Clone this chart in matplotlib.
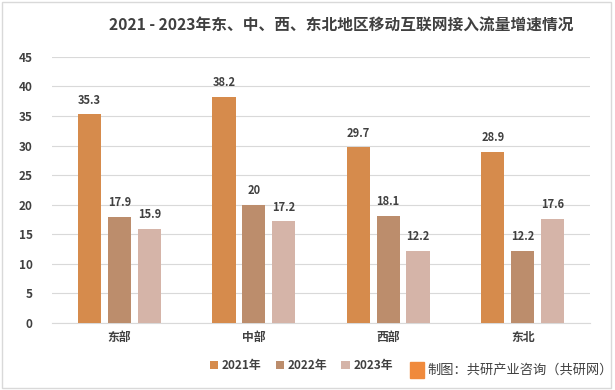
import matplotlib
matplotlib.use("Agg")
import matplotlib.pyplot as plt
import numpy as np
from matplotlib.patches import Rectangle

plt.rcParams['font.family'] = ['Noto Sans CJK SC', 'DejaVu Sans']

categories = ["东部", "中部", "西部", "东北"]
series_names = ["2021年", "2022年", "2023年"]
v2021 = [35.3, 38.2, 29.7, 28.9]
v2022 = [17.9, 20, 18.1, 12.2]
v2023 = [15.9, 17.2, 12.2, 17.6]
colors = ["#D68B4C", "#BC8D6C", "#D5B4A8"]
title = "2021 - 2023年东、中、西、东北地区移动互联网接入流量增速情况"

fig = plt.figure(figsize=(6.15, 3.9), dpi=100)
ax = fig.add_axes([0.085, 0.172, 0.874, 0.682])

x = np.arange(len(categories))
pitch = 0.222
width = 0.172
for i, (vals, name, c) in enumerate(zip([v2021, v2022, v2023], series_names, colors)):
    bars = ax.bar(x + (i - 1) * pitch, vals, width, color=c, label=name, zorder=3)
    for b, v in zip(bars, vals):
        ax.text(b.get_x() + b.get_width() / 2, v + 1.3, f"{v:g}", ha="center", va="bottom",
                fontsize=8, fontweight="bold", color="#404040")

ax.set_xlim(-0.5, 3.5)
ax.set_ylim(0, 45)
ax.set_yticks(np.arange(0, 46, 5))
ax.set_xticks(x)
ax.set_xticklabels(categories, fontsize=8.5, fontweight="bold", color="#404040")
ax.tick_params(axis="y", labelsize=8.5, colors="#404040", length=0, pad=14)
ax.tick_params(axis="x", length=0, pad=6)
for lbl in ax.get_yticklabels():
    lbl.set_fontweight("bold")
ax.grid(axis="y", color="#D9D9D9", linewidth=0.8, zorder=0)
for s in ["top", "right", "left"]:
    ax.spines[s].set_visible(False)
ax.spines["bottom"].set_color("#D9D9D9")

fig.text(0.555, 0.935, title, ha="center", va="center", fontsize=11.3, fontweight="bold", color="#404040")

leg = fig.legend(loc="center", bbox_to_anchor=(0.49, 0.063), ncol=3, frameon=False,
                 fontsize=8.5, handlelength=0.7, handleheight=0.7, handletextpad=0.3, columnspacing=1.2)
for t in leg.get_texts():
    t.set_color("#404040")
    t.set_fontweight("bold")

fig.text(0.695, 0.05, "制图：共研产业咨询（共研网）", ha="left", va="center", fontsize=9.5, color="#404040")
fig.patches.append(Rectangle((0.667, 0.03), 0.022, 0.042, transform=fig.transFigure,
                             color="#F08A3C", zorder=1))

fig.patches.append(Rectangle((0.004, 0.006), 0.99, 0.988, transform=fig.transFigure,
                             fill=False, edgecolor="#D9D9D9", linewidth=1))

fig.savefig("out.png", dpi=100)
